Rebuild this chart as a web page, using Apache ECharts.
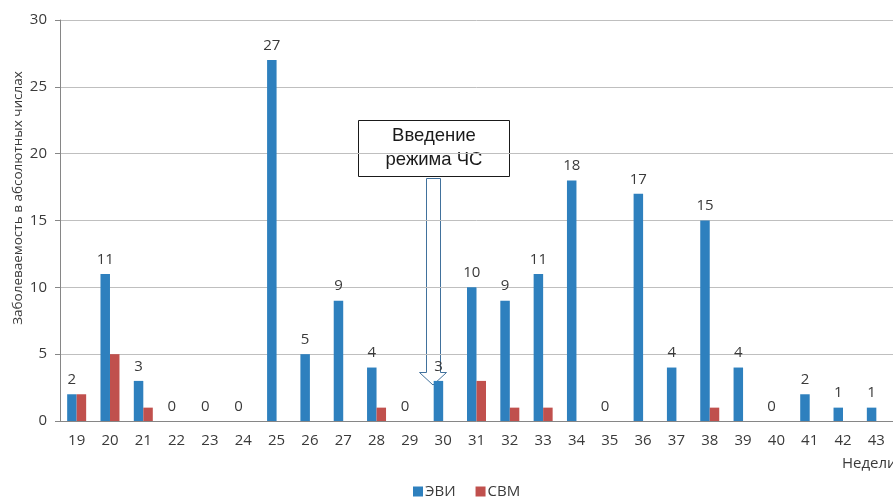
<!DOCTYPE html>
<html>
<head>
<meta charset="utf-8">
<script src="https://cdn.jsdelivr.net/npm/echarts@6/dist/echarts.min.js"></script>
<style>
  html, body { margin: 0; padding: 0; background: #fff; }
  #chart { width: 893px; height: 499px; }
</style>
</head>
<body>
<div id="chart"></div>
<script>
// Weekly case counts: enteroviral infections (ЭВИ) and serous meningitis (СВМ)
const weeks = ['19','20','21','22','23','24','25','26','27','28','29','30','31',
               '32','33','34','35','36','37','38','39','40','41','42','43'];
const evi = [2, 11, 3, 0, 0, 0, 27, 5, 9, 4, 0, 3, 10, 9, 11, 18, 0, 17, 4, 15, 4, 0, 2, 1, 1];
const svm = [2, 5, 1, 0, 0, 0, 0, 0, 0, 1, 0, 0, 3, 1, 1, 0, 0, 0, 0, 1, 0, 0, 0, 0, 0];
const yTicks = [0, 5, 10, 15, 20, 25, 30];

const FONT = 'Open Sans';
const INK = '#3a3a3a';
const chart = echarts.init(document.getElementById('chart'));

chart.setOption({
  animation: false,
  textStyle: { fontFamily: FONT },
  grid: { left: 60, top: 20, width: 835, height: 401, containLabel: false },
  legend: {
    top: 484,
    left: 413,
    padding: 0,
    itemWidth: 10,
    itemHeight: 10,
    itemGap: 20,
    icon: 'rect',
    textStyle: { fontFamily: FONT, fontSize: 15, color: INK, padding: [0, 0, 0, -3] },
    data: ['ЭВИ', 'СВМ']
  },
  xAxis: {
    type: 'category',
    data: weeks,
    axisLine: { lineStyle: { color: '#868686', width: 1 } },
    axisTick: { alignWithLabel: false, length: 5, lineStyle: { color: '#868686' } },
    axisLabel: { fontFamily: FONT, fontSize: 15, color: INK, margin: 12 }
  },
  yAxis: {
    type: 'value',
    min: yTicks[0],
    max: yTicks[yTicks.length - 1],
    interval: yTicks[1] - yTicks[0],
    axisLine: { show: true, lineStyle: { color: '#868686', width: 1 } },
    axisTick: { show: true, inside: false, length: 5, lineStyle: { color: '#868686' } },
    axisLabel: { fontFamily: FONT, fontSize: 15, color: INK, margin: 13 },
    splitLine: { lineStyle: { color: '#bfbfbf', width: 1 } }
  },
  series: [
    {
      name: 'ЭВИ',
      type: 'bar',
      data: evi,
      barWidth: 9.5,
      barGap: '0%',
      itemStyle: { color: '#2E80BE' },
      label: {
        show: true,
        position: 'top',
        distance: 7,
        fontFamily: FONT,
        fontSize: 15,
        color: INK
      }
    },
    {
      name: 'СВМ',
      type: 'bar',
      data: svm,
      barWidth: 9.5,
      barGap: '0%',
      itemStyle: { color: '#C0504D' }
    }
  ],
  graphic: [
    // vertical axis title
    {
      type: 'text',
      x: 18, y: 198,
      rotation: Math.PI / 2,
      style: {
        text: 'Заболеваемость в абсолютных числах',
        fontFamily: FONT, fontSize: 13.5, fill: INK,
        textAlign: 'center', textVerticalAlign: 'middle'
      }
    },
    // horizontal axis title
    {
      type: 'text',
      left: 842, top: 456,
      style: { text: 'Недели', fontFamily: FONT, fontSize: 15, fill: INK }
    },
    // callout box
    {
      type: 'rect',
      shape: { x: 358.5, y: 120.5, width: 151, height: 56 },
      style: { fill: '#fff', stroke: '#1a1a1a', lineWidth: 1 }
    },
    {
      type: 'text',
      x: 434, y: 148,
      style: {
        text: 'Введение\nрежима ЧС',
        fontFamily: 'Liberation Sans', fontSize: 18.5, lineHeight: 24, fill: '#1a1a1a',
        textAlign: 'center', textVerticalAlign: 'middle'
      }
    },
    // hollow arrow pointing to week 30
    {
      type: 'polygon',
      shape: {
        points: [[426.5, 178.5], [440.5, 178.5], [440.5, 372.5], [446.5, 372.5],
                 [433, 385], [419.5, 372.5], [426.5, 372.5]]
      },
      style: { fill: 'rgba(255,255,255,0)', stroke: '#41719C', lineWidth: 1 }
    }
  ]
});
</script>
</body>
</html>
